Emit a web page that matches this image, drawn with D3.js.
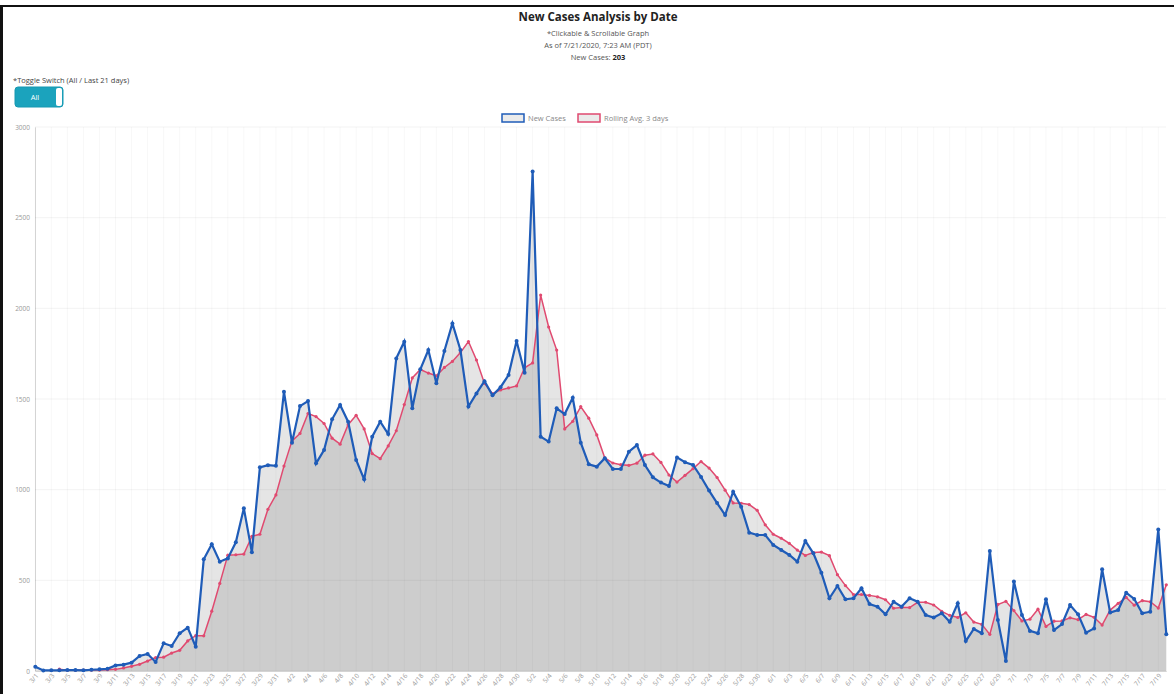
<!DOCTYPE html>
<html><head><meta charset="utf-8">
<script src="https://cdn.jsdelivr.net/npm/d3@7"></script>
<style>
body{margin:0;background:#fff;}
svg{display:block;font-family:"Open Sans","Noto Sans",sans-serif;}
</style>
</head><body>
<svg id="c" width="1174" height="694"></svg>
<script>
const dates = ["3/1","3/2","3/3","3/4","3/5","3/6","3/7","3/8","3/9","3/10","3/11","3/12","3/13","3/14","3/15","3/16","3/17","3/18","3/19","3/20","3/21","3/22","3/23","3/24","3/25","3/26","3/27","3/28","3/29","3/30","3/31",
"4/1","4/2","4/3","4/4","4/5","4/6","4/7","4/8","4/9","4/10","4/11","4/12","4/13","4/14","4/15","4/16","4/17","4/18","4/19","4/20","4/21","4/22","4/23","4/24","4/25","4/26","4/27","4/28","4/29","4/30",
"5/1","5/2","5/3","5/4","5/5","5/6","5/7","5/8","5/9","5/10","5/11","5/12","5/13","5/14","5/15","5/16","5/17","5/18","5/19","5/20","5/21","5/22","5/23","5/24","5/25","5/26","5/27","5/28","5/29","5/30","5/31",
"6/1","6/2","6/3","6/4","6/5","6/6","6/7","6/8","6/9","6/10","6/11","6/12","6/13","6/14","6/15","6/16","6/17","6/18","6/19","6/20","6/21","6/22","6/23","6/24","6/25","6/26","6/27","6/28","6/29","6/30",
"7/1","7/2","7/3","7/4","7/5","7/6","7/7","7/8","7/9","7/10","7/11","7/12","7/13","7/14","7/15","7/16","7/17","7/18","7/19","7/20"];

const newCases = [24,3,4,4,5,5,4,7,9,12,31,35,46,83,94,50,153,138,208,239,134,616,699,603,621,710,897,655,1123,1135,
1132,1540,1259,1461,1489,1145,1219,1388,1467,1375,1164,1057,1292,1375,1307,1724,1816,1449,1664,1770,
1587,1765,1917,1770,1458,1531,1598,1520,1565,1632,1820,1645,2754,1292,1265,1449,1417,1507,1259,1140,
1127,1173,1114,1114,1209,1246,1136,1068,1039,1020,1178,1151,1136,1070,995,926,860,989,906,763,
750,750,695,667,640,603,717,649,542,401,469,395,401,456,369,355,313,382,355,401,
382,309,295,318,272,373,165,232,208,662,281,55,493,309,221,208,395,226,259,364,
313,211,235,561,322,336,432,397,318,327,781,203];

const rollingAvg = [null,null,null,10,4,4,5,5,5,7,9,17,26,37,55,74,76,99,114,166,195,194,330,483,639,641,645,743,754,892,
971,1130,1269,1310,1420,1403,1365,1284,1251,1358,1410,1335,1199,1171,1241,1325,1469,1616,1663,1643,
1628,1674,1707,1756,1817,1715,1586,1529,1550,1561,1572,1672,1699,2073,1897,1770,1335,1377,1458,1394,
1302,1175,1147,1138,1134,1146,1190,1197,1150,1081,1042,1079,1116,1155,1119,1067,997,927,925,918,
886,806,754,732,704,667,637,653,656,636,531,471,422,422,417,409,393,346,350,350,
379,379,364,329,307,295,321,270,257,202,367,384,333,276,286,341,246,275,276,293,
283,312,296,253,336,373,406,363,388,382,347,475];

const yTicks = [0,500,1000,1500,2000,2500,3000];
const xTickLabels = dates.filter((d,i)=>i%2===0);
const seriesNames = ["New Cases","Rolling Avg. 3 days"];
const titleText = "New Cases Analysis by Date";
const subLines = ["*Clickable & Scrollable Graph","As of 7/21/2020, 7:23 AM (PDT)"];
const latestLabel = "New Cases: ";
const latestValue = "203";

const blue = "#1f5cb8", pink = "#e04a70";
const svg = d3.select("#c");

// frame
svg.append("rect").attr("x",0).attr("y",5).attr("width",1174).attr("height",2).attr("fill","#111");
svg.append("rect").attr("x",0).attr("y",5).attr("width",3).attr("height",689).attr("fill","#111");

// title
svg.append("text").attr("x",598).attr("y",21).attr("text-anchor","middle")
  .attr("font-size",11.5).attr("font-weight","bold").attr("fill","#222").text(titleText);
subLines.forEach((t,i)=>{
  svg.append("text").attr("x",598).attr("y",36+i*12).attr("text-anchor","middle")
    .attr("font-size",7.5).attr("fill","#555").text(t);
});
const nc = svg.append("text").attr("x",598).attr("y",60).attr("text-anchor","middle")
  .attr("font-size",7.5).attr("fill","#555");
nc.append("tspan").text(latestLabel);
nc.append("tspan").attr("font-weight","bold").attr("fill","#222").text(latestValue);

// toggle
svg.append("text").attr("x",13).attr("y",83).attr("font-size",7.5).attr("fill","#444")
  .text("*Toggle Switch (All / Last 21 days)");
svg.append("rect").attr("x",15).attr("y",87).attr("width",48).attr("height",20).attr("rx",3)
  .attr("fill","#1ba3bd").attr("stroke","#1798b1");
svg.append("rect").attr("x",56).attr("y",88).attr("width",6).attr("height",18).attr("rx",2)
  .attr("fill","#fff");
svg.append("text").attr("x",35).attr("y",100).attr("text-anchor","middle")
  .attr("font-size",7.5).attr("fill","#fff").text("All");

// scales
const x = d3.scalePoint().domain(dates).range([35.3,1166.3]);
const y = d3.scaleLinear().domain([0,3000]).range([671,127]);

// grid
const g = svg.append("g");
g.selectAll("line.h").data(yTicks).join("line")
  .attr("x1",35).attr("x2",1166).attr("y1",d=>y(d)).attr("y2",d=>y(d))
  .attr("stroke","rgba(0,0,0,0.05)");
g.selectAll("line.v").data(xTickLabels).join("line")
  .attr("x1",d=>x(d)).attr("x2",d=>x(d)).attr("y1",127).attr("y2",671)
  .attr("stroke","rgba(0,0,0,0.03)");

// y axis
const ya = svg.append("g").attr("transform","translate(35,0)")
  .call(d3.axisLeft(y).tickValues(yTicks).tickFormat(d3.format("d")).tickSize(0).tickPadding(5));
ya.select(".domain").attr("stroke","rgba(0,0,0,0.15)");
ya.selectAll("text").attr("font-size",6.5).attr("fill","#999").attr("font-family","Open Sans");

// x axis
const xa = svg.append("g").attr("transform","translate(0,671)")
  .call(d3.axisBottom(x).tickValues(xTickLabels).tickSize(0).tickPadding(0));
xa.select(".domain").attr("stroke","rgba(0,0,0,0.15)");
xa.selectAll("text").attr("font-size",6.5).attr("fill","#999").attr("font-family","Open Sans")
  .attr("text-anchor","end").attr("dy",0)
  .attr("transform",d=>`translate(3,5) rotate(-50)`);

// areas
const area = d3.area().defined(d=>d!=null).x((d,i)=>x(dates[i])).y0(y(0)).y1(d=>y(d));
const lineGen = d3.line().defined(d=>d!=null).x((d,i)=>x(dates[i])).y(d=>y(d));
svg.append("path").attr("d",area(rollingAvg)).attr("fill","rgba(0,0,0,0.1)");
svg.append("path").attr("d",area(newCases)).attr("fill","rgba(0,0,0,0.1)");

// red series
svg.append("path").attr("d",lineGen(rollingAvg)).attr("fill","none").attr("stroke",pink).attr("stroke-width",1.5);
svg.append("g").selectAll("circle").data(rollingAvg.map((v,i)=>[v,i]).filter(d=>d[0]!=null)).join("circle")
  .attr("cx",d=>x(dates[d[1]])).attr("cy",d=>y(d[0])).attr("r",1.6).attr("fill",pink);
// blue series
svg.append("path").attr("d",lineGen(newCases)).attr("fill","none").attr("stroke",blue).attr("stroke-width",2.2);
svg.append("g").selectAll("circle").data(newCases.map((v,i)=>[v,i])).join("circle")
  .attr("cx",d=>x(dates[d[1]])).attr("cy",d=>y(d[0])).attr("r",2).attr("fill",blue);

// legend
const lg = svg.append("g");
const legendItems = [{name:seriesNames[0],color:blue,x:502},{name:seriesNames[1],color:pink,x:578}];
legendItems.forEach(it=>{
  lg.append("rect").attr("x",it.x).attr("y",114).attr("width",22).attr("height",8)
    .attr("fill","rgba(0,0,0,0.08)").attr("stroke",it.color).attr("stroke-width",1.5);
  lg.append("text").attr("x",it.x+26).attr("y",121).attr("font-size",7.5).attr("fill","#888").text(it.name);
});
</script>
</body></html>
